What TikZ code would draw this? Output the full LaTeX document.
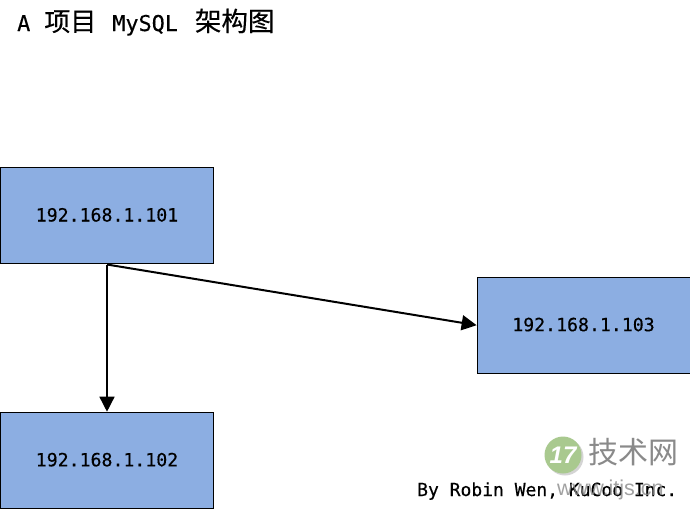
\documentclass[tikz,border=0pt]{standalone}
\usepackage{fontspec}
\setmainfont[FakeBold=0.35]{DejaVu Sans Mono}
\newfontfamily\cjk[FakeBold=0.4]{Noto Sans CJK SC}
\newfontfamily\cjkw{Noto Sans CJK SC}
\newfontfamily\wm{Liberation Sans}
\usetikzlibrary{arrows.meta}
\definecolor{boxblue}{HTML}{8CAEE2}
\definecolor{wmgray}{HTML}{8A8A8A}
\definecolor{wmshadow}{HTML}{D4D4D4}
\definecolor{wmgreen}{HTML}{A9C98F}
\newcommand{\hostlabel}[1]{\raisebox{1.5pt}{#1}}
\tikzset{
 host/.style={draw=black,line width=0.7pt,fill=boxblue,minimum width=213pt,minimum height=96.5pt,inner sep=0pt,font=\fontsize{18.2}{20}\selectfont,text=black},
 link/.style={draw=black,-{Triangle[length=15pt,width=15pt]}},
 label/.style={inner sep=0pt,anchor=base west,text=black},
 wmtitle/.style={label,font=\cjkw\fontsize{30}{31}\selectfont},
 wmurl/.style={label,font=\wm\fontsize{21.5}{22}\selectfont}
}
\begin{document}
\begin{tikzpicture}[x=1pt,y=-1pt]
\useasboundingbox[fill=white] (0,0) rectangle (690,509);
\node[label,font=\fontsize{21.8}{24}\selectfont] (title) at (17,31) {A\hspace{14pt}{\cjk\fontsize{26}{28}\selectfont 项目}\hspace{16pt}MySQL\hspace{17pt}{\cjk\fontsize{26.5}{28}\selectfont 架构图}};
\node[host] (a) at (107,215.5) {\hostlabel{192.168.1.101}};
\node[host] (b) at (107,460.3) {\hostlabel{192.168.1.102}};
\node[host] (c) at (583.5,325.2) {\hostlabel{192.168.1.103}};
\coordinate (s) at (107,264.5);
\draw[link,line width=1.5pt] (s) -- (b.north -| s);
\draw[link,line width=2pt] (s) -- (c.west);
\node[label,font=\fontsize{18}{20}\selectfont] (by) at (417,496) {By Robin Wen, KuCoo Inc.};
\node[circle,fill=wmshadow,minimum size=37pt,inner sep=0pt] (wms) at (565,457) {};
\node[circle,fill=wmgreen,minimum size=37pt,inner sep=0pt,text=white,font=\wm\bfseries\itshape\fontsize{24}{24}\selectfont] (wmc) at (563,455) {17};
\node[wmtitle,text=wmgray] (wmt) at (588,463) {技术网};
\node[wmurl,text=wmgray,text opacity=0.8] (wmu) at (557,495) {www.itjs.cn};
\end{tikzpicture}
\end{document}
